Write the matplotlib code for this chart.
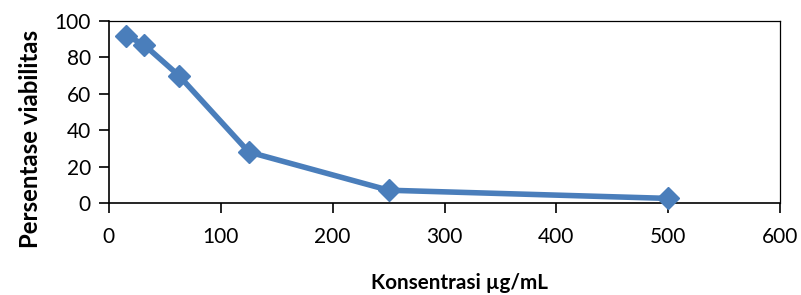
import matplotlib
matplotlib.use('Agg')
import matplotlib.pyplot as plt

konsentrasi = [15.625, 31.25, 62.5, 125, 250, 500]
viabilitas = [92, 87, 70, 28, 7, 2.5]
x_ticks = [0, 100, 200, 300, 400, 500, 600]
y_ticks = [0, 20, 40, 60, 80, 100]

plt.rcParams['font.family'] = ['Lato', 'DejaVu Sans']

fig = plt.figure(figsize=(8.01, 2.95), dpi=100)
ax = fig.add_axes([0.136, 0.312, 0.838, 0.617])

ax.plot(konsentrasi, viabilitas, color='#4a7ebb', lw=4, marker='D',
        markersize=11, markerfacecolor='#4a7ebb', markeredgecolor='#4a7ebb',
        clip_on=False, zorder=3)

ax.set_xlim(0, 600)
ax.set_ylim(0, 100)
ax.set_xticks(x_ticks)
ax.set_yticks(y_ticks)
ax.tick_params(axis='x', direction='out', length=7, width=1.2, labelsize=15, pad=10)
ax.tick_params(axis='y', direction='out', length=7, width=1.2, labelsize=15, pad=6)
for s in ax.spines.values():
    s.set_linewidth(1.2)
    s.set_color('black')
ax.spines['top'].set_linewidth(0.9)
ax.spines['right'].set_linewidth(0.9)

xl = ax.set_xlabel('Konsentrasi µg/mL', fontsize=14, fontweight='bold')
yl = ax.set_ylabel('Persentase viabilitas', fontsize=14, fontweight='bold')

# fit label lengths to the reference (x: ~178 px, y: ~220 px)
fig.canvas.draw()
r = fig.canvas.get_renderer()
xw = xl.get_window_extent(r).width
yh = yl.get_window_extent(r).height
xl.set_fontsize(14 * 178 / xw)
yl.set_fontsize(14 * 220 / yh)
ax.xaxis.set_label_coords(0.522, -0.385)
ax.yaxis.set_label_coords(-0.10, 0.35)

fig.savefig('out.png', dpi=100)
